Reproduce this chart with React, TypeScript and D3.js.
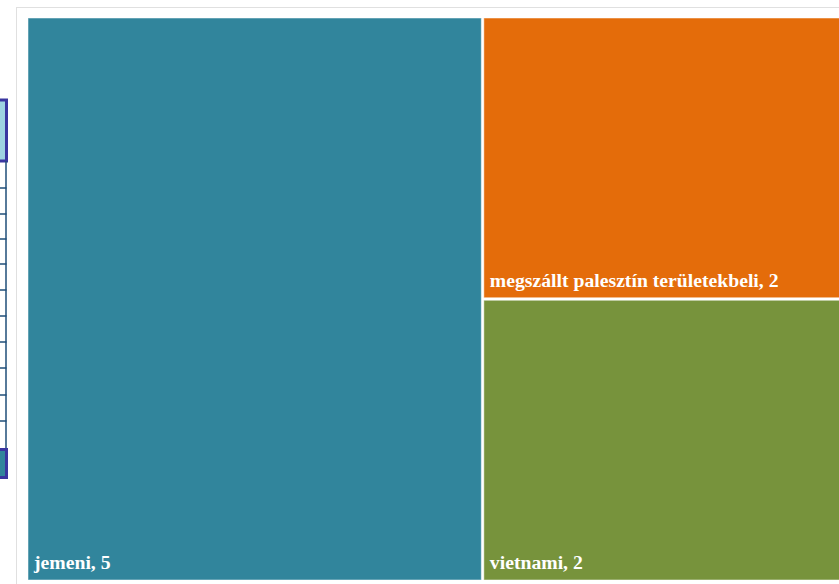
import React from "react";
import * as d3 from "d3";

const categories = ["jemeni", "megszállt palesztín területekbeli", "vietnami"];
const values = [5, 2, 2];
const colors = ["#31859c", "#e46c0a", "#77933c"];
const tableRowLines = [188, 214, 239, 264, 290, 316, 342, 368, 395, 421];

const W = 839;
const H = 584;

export default function App() {
  const leafNodes = categories.map((c, i) => ({ name: c, value: values[i], color: colors[i] }));
  const data = {
    name: "root",
    children: [leafNodes[0], { name: "rest", children: leafNodes.slice(1) }],
  };
  const root = d3.hierarchy<any>(data).sum((d: any) => d.value || 0);
  d3.treemap<any>().tile(d3.treemapSliceDice).size([818, 562]).paddingInner(2.5)(root);
  const leaves = root.leaves() as any[];
  const ox = 28;
  const oy = 18;

  return (
    <div style={{ position: "fixed", left: 0, top: 0, width: W, height: H, background: "#fff" }}>
      <svg width={W} height={H} style={{ display: "block" }}>
        {/* partial table on the left */}
        <rect x={-5} y={100} width={11.5} height={61} fill="#9ed3e1" stroke="#3a36a0" strokeWidth={3} />
        <line x1={6} x2={6} y1={161} y2={448} stroke="#1f4e79" strokeWidth={1.5} />
        {tableRowLines.map((y) => (
          <line key={y} x1={0} x2={6.5} y1={y} y2={y} stroke="#1f4e79" strokeWidth={1.5} />
        ))}
        <rect x={-5} y={449.5} width={11.5} height={28} fill="#31859c" stroke="#3a36a0" strokeWidth={3} />

        {/* frame */}
        <line x1={16.5} x2={16.5} y1={7} y2={H} stroke="#e0e0e0" strokeWidth={1} />
        <line x1={16} x2={W} y1={7.5} y2={7.5} stroke="#e0e0e0" strokeWidth={1} />

        {leaves.map((l, i) => (
          <g key={i}>
            <rect
              x={ox + l.x0}
              y={oy + l.y0}
              width={l.x1 - l.x0}
              height={l.y1 - l.y0}
              fill={l.data.color}
              stroke="rgba(255,255,255,0.5)"
              strokeWidth={1}
            />
            <text
              x={ox + l.x0 + 6}
              y={oy + l.y1 - 11}
              fill="#fff"
              fontFamily="'Liberation Serif', 'Times New Roman', serif"
              fontWeight="bold"
              fontSize={19.7}
            >
              {`${l.data.name}, ${l.data.value}`}
            </text>
          </g>
        ))}
      </svg>
    </div>
  );
}
